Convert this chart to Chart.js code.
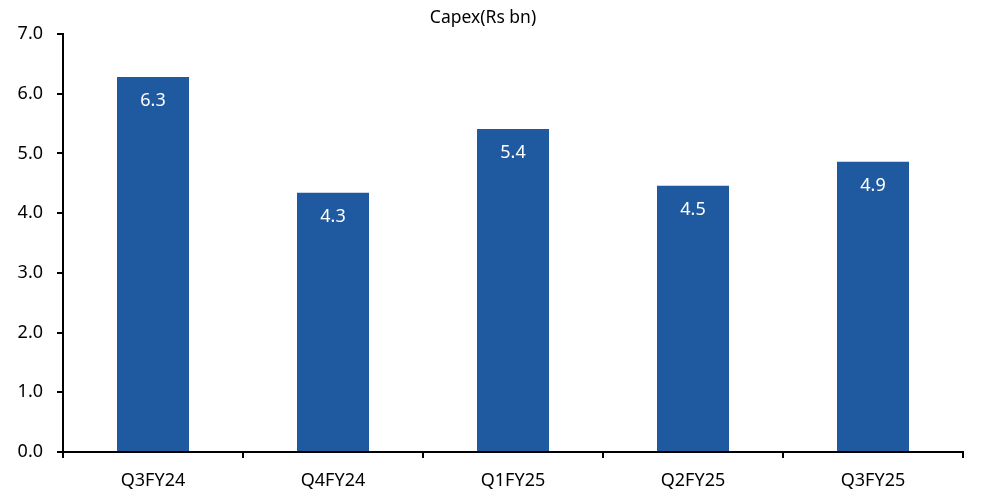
<!DOCTYPE html>
<html>
<head>
<meta charset="utf-8">
<script src="https://cdn.jsdelivr.net/npm/chart.js@4"></script>
<style>
  html, body { margin: 0; padding: 0; background: #fff; }
  #wrap { width: 988px; height: 493px; }
</style>
</head>
<body>
<div id="wrap"><canvas id="myChart"></canvas></div>
<script>
const quarters = ["Q3FY24", "Q4FY24", "Q1FY25", "Q2FY25", "Q3FY25"];
const capex = [6.28, 4.34, 5.41, 4.46, 4.86];
const yTicks = [0, 1, 2, 3, 4, 5, 6, 7];
const chartTitle = "Capex(Rs bn)";

const FONT = "'Noto Sans', sans-serif";

// value labels inside the top of each bar
const barLabels = {
  id: "barLabels",
  afterDatasetsDraw(chart) {
    const ctx = chart.ctx;
    const meta = chart.getDatasetMeta(0);
    ctx.save();
    ctx.fillStyle = "#ffffff";
    ctx.font = "18px " + FONT;
    ctx.textAlign = "center";
    ctx.textBaseline = "middle";
    meta.data.forEach((bar, i) => {
      ctx.fillText(capex[i].toFixed(1), bar.x, bar.y + 24);
    });
    ctx.restore();
  }
};

// title drawn by hand so it sits where the original has it
const topTitle = {
  id: "topTitle",
  afterDraw(chart) {
    const ctx = chart.ctx;
    ctx.save();
    ctx.fillStyle = "#000";
    ctx.font = "17.5px " + FONT;
    ctx.textAlign = "center";
    ctx.textBaseline = "middle";
    ctx.fillText(chartTitle, 483, 18);
    ctx.restore();
  }
};

new Chart(document.getElementById("myChart"), {
  type: "bar",
  data: {
    labels: quarters,
    datasets: [{
      data: capex,
      backgroundColor: "#1F5AA0",
      barPercentage: 0.4,
      categoryPercentage: 1.0
    }]
  },
  options: {
    responsive: true,
    maintainAspectRatio: false,
    animation: false,
    layout: { padding: { top: 34, right: 25, bottom: 0, left: 0 } },
    plugins: {
      legend: { display: false },
      tooltip: { enabled: false },
      title: { display: false }
    },
    scales: {
      x: {
        grid: { drawOnChartArea: false, drawTicks: true, tickLength: 6, color: "#000", lineWidth: 2 },
        border: { color: "#000", width: 2 },
        ticks: { color: "#000", font: { family: FONT, size: 18 }, padding: 12, maxRotation: 0 },
        afterFit(scale) { scale.height = 41; }
      },
      y: {
        min: 0,
        max: 7,
        afterBuildTicks(scale) { scale.ticks = yTicks.map(v => ({ value: v })); },
        grid: { drawOnChartArea: false, drawTicks: true, tickLength: 6, color: "#000", lineWidth: 2 },
        border: { color: "#000", width: 2 },
        ticks: {
          color: "#000",
          font: { family: FONT, size: 18 },
          padding: 14,
          callback: v => v.toFixed(1)
        },
        afterFit(scale) { scale.width = 63; }
      }
    }
  },
  plugins: [barLabels, topTitle]
});
</script>
</body>
</html>
